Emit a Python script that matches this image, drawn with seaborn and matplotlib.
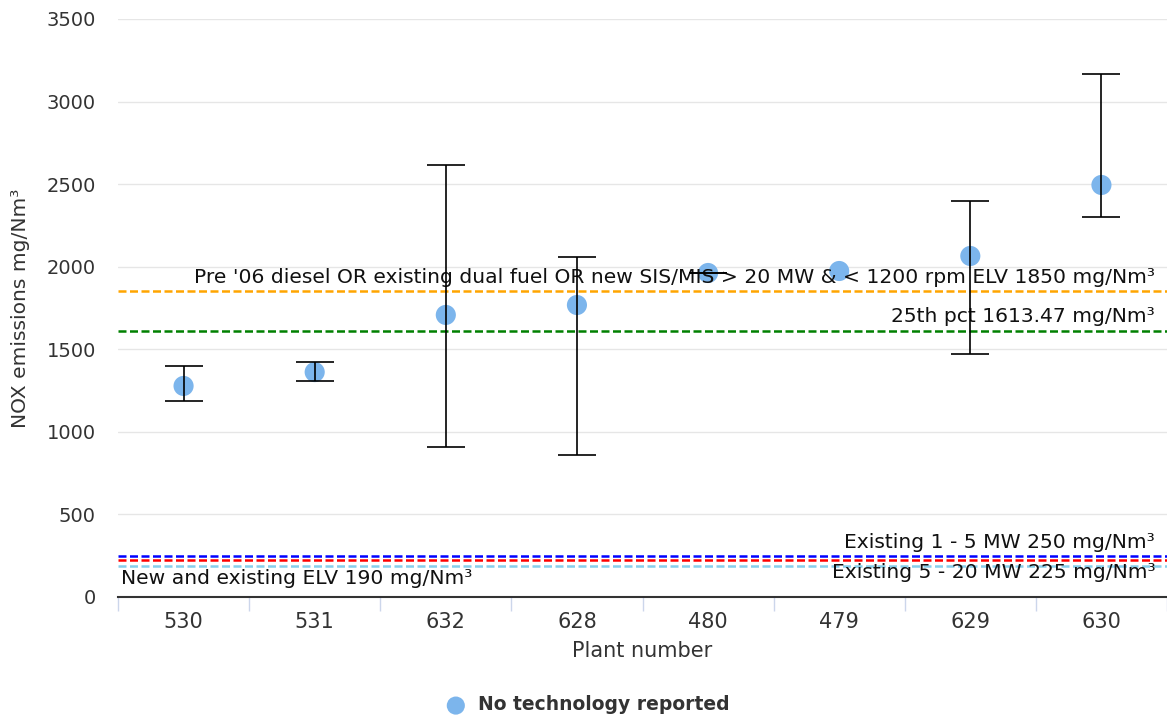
import matplotlib
matplotlib.use("Agg")
import matplotlib.pyplot as plt
import seaborn as sns
import pandas as pd
import numpy as np

# Plant measurements (NOX, mg/Nm³)
plants = ["530", "531", "632", "628", "480", "479", "629", "630"]
nox_mean = [1278, 1362, 1708, 1768, 1962, 1974, 2065, 2495]
nox_low = [1187, 1308, 908, 860, 1962, np.nan, 1471, 2301]
nox_high = [1399, 1423, 2616, 2059, 1962, np.nan, 2398, 3167]

# Emission limit reference lines
limit_values = [1850, 1613.47, 250, 225, 190]
limit_colors = ["#ffa500", "#008000", "#0000ff", "#ff0000", "#87ceeb"]
limit_labels = [
    "Pre '06 diesel OR existing dual fuel OR new SIS/MIS > 20 MW & < 1200 rpm ELV 1850 mg/Nm³",
    "25th pct 1613.47 mg/Nm³",
    "Existing 1 - 5 MW 250 mg/Nm³",
    "Existing 5 - 20 MW 225 mg/Nm³",
    "New and existing ELV 190 mg/Nm³",
]

sns.set_theme(style="white")
plt.rcParams["font.family"] = ["DejaVu Sans"]

fig = plt.figure(figsize=(11.67, 7.18), dpi=100)
ax = fig.add_axes([118 / 1167, 1 - 597 / 718, 1 - 118 / 1167, (597 - 19) / 718])

df = pd.DataFrame({"pos": np.arange(len(plants)), "nox": nox_mean})

# horizontal grid
for v in range(0, 3501, 500):
    ax.axhline(v, color="#e6e6e6", lw=1, zorder=0)

# reference limit lines
for v, c in zip(limit_values, limit_colors):
    ax.axhline(v, color=c, lw=1.8, ls=(0, (3.2, 1.4)), zorder=1)

sns.scatterplot(data=df, x="pos", y="nox", ax=ax, s=210, color="#7cb5ec",
                edgecolor="none", zorder=3, label="No technology reported")

# error bars drawn over the markers
mean = np.array(nox_mean, dtype=float)
yerr = np.vstack([mean - np.array(nox_low, dtype=float),
                  np.array(nox_high, dtype=float) - mean])
ax.errorbar(df["pos"], mean, yerr=yerr, fmt="none", ecolor="black",
            elinewidth=1.2, capsize=14, capthick=1.2, zorder=4)

# limit labels
txt = "#111111"
fs = 14.6
xr = 7.41
ax.text(xr, 1850 + 25, limit_labels[0], ha="right", va="bottom", fontsize=fs, color=txt)
ax.text(xr, 1613.47 + 25, limit_labels[1], ha="right", va="bottom", fontsize=fs, color=txt)
ax.text(xr, 250 + 22, limit_labels[2], ha="right", va="bottom", fontsize=fs, color=txt)
ax.text(xr, 225 - 22, limit_labels[3], ha="right", va="top", fontsize=fs, color=txt)
ax.text(-0.48, 190 - 22, limit_labels[4], ha="left", va="top", fontsize=fs, color=txt)

ax.set_xlim(-0.5, len(plants) - 0.5)
ax.set_ylim(0, 3500)
ax.set_yticks(range(0, 3501, 500))
ax.set_xticks(np.arange(len(plants)))
ax.set_xticklabels(plants, fontsize=15, color="#333333")
ax.set_xticks(np.arange(-0.5, len(plants)), minor=True)
ax.tick_params(axis="x", which="major", length=0, pad=11)
ax.tick_params(axis="x", which="minor", length=10, color="#ccd6eb", width=1, bottom=True)
ax.tick_params(axis="y", length=0, labelsize=14, labelcolor="#333333", pad=16)

for s in ["top", "right", "left"]:
    ax.spines[s].set_visible(False)
ax.spines["bottom"].set_color("#333333")
ax.spines["bottom"].set_linewidth(1.5)

ax.set_xlabel("Plant number", fontsize=15, color="#333333", labelpad=6)
ax.set_ylabel("NOX emissions mg/Nm³", fontsize=14.6, color="#333333", labelpad=12)

leg = ax.legend(loc="center", bbox_to_anchor=(0.5, 13 / 718), bbox_transform=fig.transFigure,
                frameon=False, prop={"weight": "bold", "size": 13.5}, handletextpad=0.2,
                markerscale=0.9)
for t in leg.get_texts():
    t.set_color("#333333")

fig.savefig("out.png", dpi=100)
